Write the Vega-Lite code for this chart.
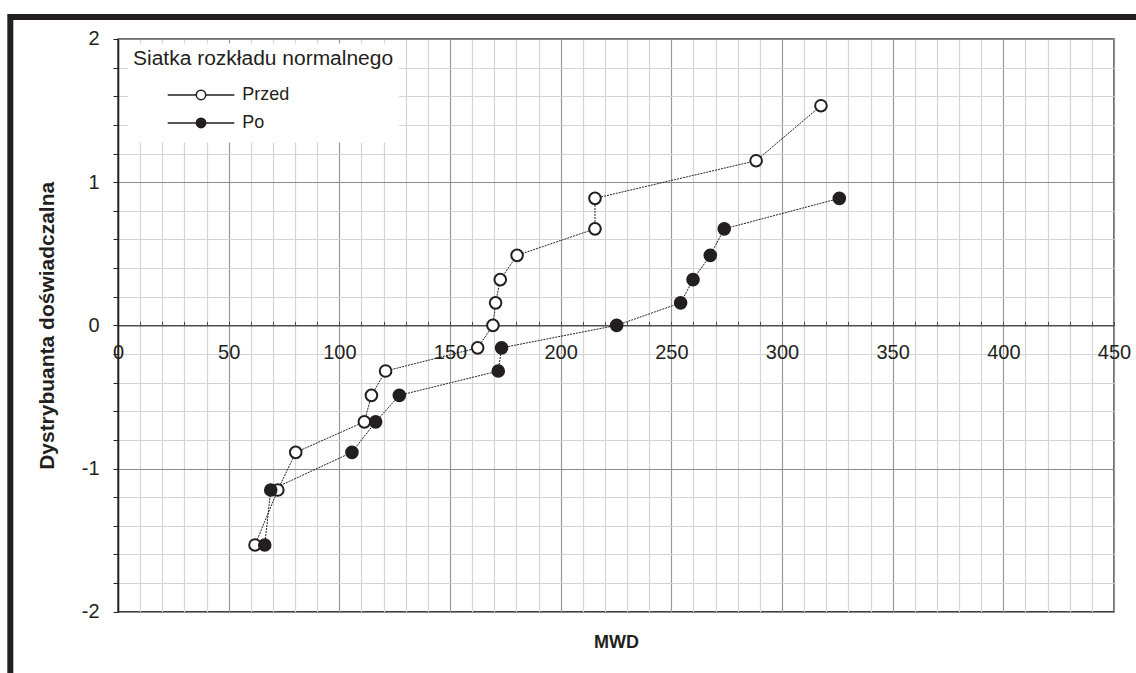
{
  "$schema": "https://vega.github.io/schema/vega-lite/v6.json",
  "autosize": {"type": "none"},
  "padding": {"left": 118, "top": 39, "right": 22, "bottom": 61},
  "width": 996,
  "height": 572.7,
  "background": "#ffffff",
  "config": {
    "font": "Liberation Sans",
    "view": {"stroke": "#404040", "strokeWidth": 1.5}
  },
  "data": {
    "values": [
      {"series": "Przed", "mwd": 317.6, "z": 1.534},
      {"series": "Przed", "mwd": 288.3, "z": 1.15},
      {"series": "Przed", "mwd": 215.5, "z": 0.887},
      {"series": "Przed", "mwd": 215.5, "z": 0.674},
      {"series": "Przed", "mwd": 180.3, "z": 0.489},
      {"series": "Przed", "mwd": 172.7, "z": 0.319},
      {"series": "Przed", "mwd": 170.6, "z": 0.157},
      {"series": "Przed", "mwd": 169.4, "z": 0},
      {"series": "Przed", "mwd": 162.5, "z": -0.157},
      {"series": "Przed", "mwd": 120.9, "z": -0.319},
      {"series": "Przed", "mwd": 114.5, "z": -0.489},
      {"series": "Przed", "mwd": 111.3, "z": -0.674},
      {"series": "Przed", "mwd": 80.3, "z": -0.887},
      {"series": "Przed", "mwd": 72.2, "z": -1.15},
      {"series": "Przed", "mwd": 61.9, "z": -1.534},
      {"series": "Po", "mwd": 325.9, "z": 0.887},
      {"series": "Po", "mwd": 273.9, "z": 0.674},
      {"series": "Po", "mwd": 267.6, "z": 0.489},
      {"series": "Po", "mwd": 259.8, "z": 0.319},
      {"series": "Po", "mwd": 254.2, "z": 0.157},
      {"series": "Po", "mwd": 225.3, "z": 0},
      {"series": "Po", "mwd": 173.3, "z": -0.157},
      {"series": "Po", "mwd": 171.8, "z": -0.319},
      {"series": "Po", "mwd": 127.1, "z": -0.489},
      {"series": "Po", "mwd": 116.4, "z": -0.674},
      {"series": "Po", "mwd": 105.7, "z": -0.887},
      {"series": "Po", "mwd": 69.0, "z": -1.15},
      {"series": "Po", "mwd": 66.3, "z": -1.534}
    ]
  },
  "resolve": {"axis": {"x": "independent", "y": "independent"}},
  "layer": [
    {
      "data": {"values": [{}]},
      "mark": {"type": "rect", "filled": false, "stroke": "#231f20", "strokeWidth": 6, "clip": false},
      "encoding": {
        "x": {"datum": -48.66, "type": "quantitative", "scale": {"domain": [0, 450], "nice": false, "zero": false}, "axis": null},
        "x2": {"datum": 466},
        "y": {"datum": 2.1537, "type": "quantitative", "scale": {"domain": [-2, 2], "nice": false, "zero": false}, "axis": null},
        "y2": {"datum": -2.55}
      }
    },
    {
      "mark": {"type": "line", "stroke": "#231f20", "strokeWidth": 1, "strokeDash": [2, 1]},
      "encoding": {
        "x": {
          "field": "mwd",
          "type": "quantitative",
          "scale": {"domain": [0, 450], "nice": false, "zero": false},
          "axis": {
            "title": "MWD",
            "titleFontSize": 18,
            "titleFontWeight": "bold",
            "titleColor": "#231f20",
            "titleX": 498,
            "titleY": 322,
            "titleAlign": "center",
            "titleBaseline": "alphabetic",
            "offset": -286.35,
            "values": [0, 10, 20, 30, 40, 50, 60, 70, 80, 90, 100, 110, 120, 130, 140, 150, 160, 170, 180, 190, 200, 210, 220, 230, 240, 250, 260, 270, 280, 290, 300, 310, 320, 330, 340, 350, 360, 370, 380, 390, 400, 410, 420, 430, 440, 450],
            "labelExpr": "datum.value % 50 === 0 ? '' + datum.value : ''",
            "labelFontSize": 20,
            "labelColor": "#231f20",
            "labelFlush": false,
            "labelOverlap": false,
            "labelBaseline": "top",
            "labelPadding": 21.2,
            "tickSize": -4,
            "tickColor": "#4d4d4d",
            "tickWidth": 1,
            "domainColor": "#4d4d4d",
            "domainWidth": 1.5,
            "grid": true,
            "gridColor": {"condition": {"test": "datum.value % 50 === 0", "value": "#999999"}, "value": "#d4d4d4"},
            "gridWidth": 1.2
          }
        },
        "y": {
          "field": "z",
          "type": "quantitative",
          "scale": {"domain": [-2, 2], "nice": false, "zero": false},
          "axis": {
            "title": "Dystrybuanta doświadczalna",
            "titleFontSize": 21,
            "titleFontWeight": "bold",
            "titleColor": "#231f20",
            "titleAngle": -90,
            "titleX": -71,
            "titleY": 286.35,
            "titleAlign": "center",
            "titleBaseline": "middle",
            "values": [-2, -1.8, -1.6, -1.4, -1.2, -1, -0.8, -0.6, -0.4, -0.2, 0, 0.2, 0.4, 0.6, 0.8, 1, 1.2, 1.4, 1.6, 1.8, 2],
            "labelExpr": "abs(datum.value - round(datum.value)) < 0.000001 ? '' + round(datum.value) : ''",
            "labelFontSize": 20,
            "labelColor": "#231f20",
            "labelFlush": false,
            "labelOverlap": false,
            "labelPadding": 14,
            "tickSize": 5,
            "tickColor": "#231f20",
            "tickWidth": 1,
            "domainColor": "#231f20",
            "domainWidth": 1.5,
            "grid": true,
            "gridColor": {"condition": {"test": "abs(datum.value - round(datum.value)) < 0.000001", "value": "#8c8c8c"}, "value": "#d4d4d4"},
            "gridWidth": 1.2
          }
        },
        "detail": {"field": "series", "type": "nominal"},
        "order": {"field": "z", "type": "quantitative"}
      }
    },
    {
      "mark": {"type": "point", "filled": true, "size": 135, "stroke": "#231f20", "strokeWidth": 2, "opacity": 1},
      "encoding": {
        "x": {"field": "mwd", "type": "quantitative", "axis": null},
        "y": {"field": "z", "type": "quantitative", "axis": null},
        "fill": {
          "field": "series",
          "type": "nominal",
          "scale": {"domain": ["Przed", "Po"], "range": ["#ffffff", "#231f20"]},
          "legend": {
            "title": "Siatka rozkładu normalnego",
            "orient": "none",
            "legendX": 10,
            "legendY": 4.45,
            "direction": "vertical",
            "fillColor": "#ffffff",
            "padding": 5,
            "titleFontSize": 21,
            "titleFontWeight": "normal",
            "titleColor": "#231f20",
            "titleLimit": 400,
            "titlePadding": 11.5,
            "labelFontSize": 18,
            "labelColor": "#231f20",
            "labelLimit": 200,
            "labelOffset": -26.8,
            "symbolType": "M-0.497,0H-0.07M0.07,0H0.497M-0.07,0A0.07,0.07 0 1,0 0.07,0A0.07,0.07 0 1,0 -0.07,0Z",
            "symbolSize": 17956,
            "symbolStrokeWidth": 1.5,
            "symbolStrokeColor": "#231f20",
            "clipHeight": 28,
            "rowPadding": 0,
            "encode": {
              "symbols": {
                "update": {
                  "stroke": {"value": "#231f20"},
                  "strokeWidth": {"value": 1.5},
                  "shape": {"value": "M-0.497,0H-0.07M0.07,0H0.497M-0.07,0A0.07,0.07 0 1,0 0.07,0A0.07,0.07 0 1,0 -0.07,0Z"}
                }
              }
            }
          }
        }
      }
    }
  ]
}
